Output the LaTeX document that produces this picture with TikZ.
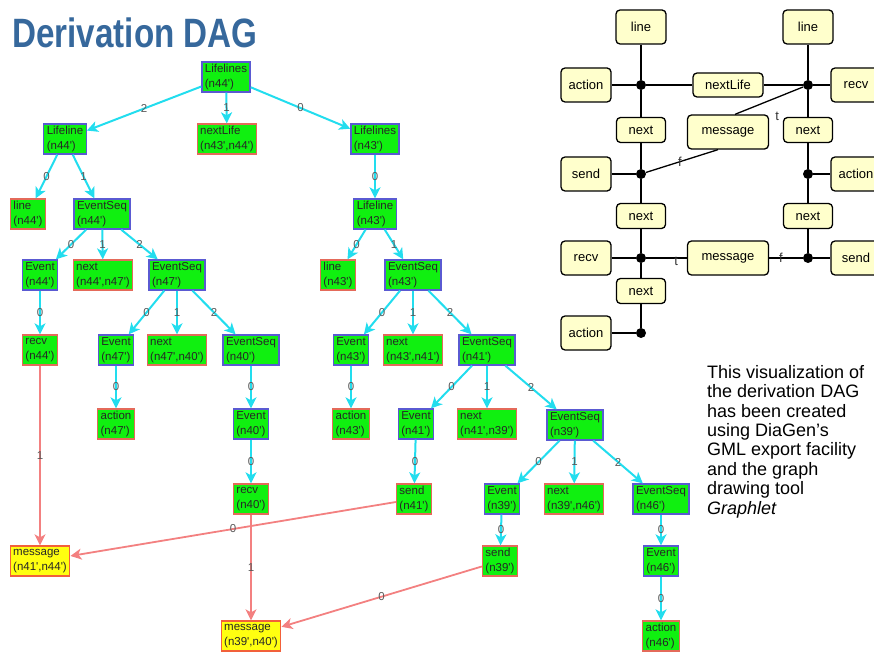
\documentclass[tikz,border=0pt]{standalone}
\usepackage{fontspec}
\newfontfamily\arialish{Liberation Sans}
\usetikzlibrary{arrows.meta}
\definecolor{titleblue}{HTML}{36689C}
\definecolor{daggreen}{HTML}{10F010}
\definecolor{ntblue}{HTML}{5A5AD2}
\definecolor{tred}{HTML}{E46A5A}
\definecolor{mred}{HTML}{F2603A}
\definecolor{msgyellow}{HTML}{FFFF10}
\definecolor{dagcyan}{HTML}{22DDEE}
\definecolor{redline}{HTML}{F38080}
\definecolor{paleyellow}{HTML}{FFFFCC}
\begin{document}
\begin{tikzpicture}[x=1pt,y=-1pt,
  dagbox/.style={rectangle, align=left, inner xsep=3pt, inner ysep=1.5pt,
    minimum height=30pt, line width=1.3pt, text=black!85,
    font=\arialish\fontsize{11.5}{15}\selectfont},
  nonterm/.style={dagbox, fill=daggreen, draw=ntblue},
  term/.style={dagbox, fill=daggreen, draw=tred},
  msgbox/.style={dagbox, fill=msgyellow, draw=mred},
  tree/.style={draw=dagcyan, line width=2pt, -{Stealth[length=11pt,width=11pt,inset=3pt]}},
  cross/.style={draw=redline, line width=1.8pt, -{Stealth[length=11pt,width=11pt,inset=3pt]}},
  elab/.style={midway, font=\arialish\fontsize{11.5}{11.5}\selectfont, text=black!65, inner sep=0pt},
  rbox/.style={rectangle, draw=black, fill=paleyellow, rounded corners=4pt,
    line width=1.3pt, inner sep=0pt, minimum width=50pt, minimum height=34pt,
    font=\arialish\fontsize{13}{15}\selectfont},
  rsmall/.style={rbox, minimum width=49pt, minimum height=25pt},
  rwide/.style={rbox, minimum width=81pt},
  joint/.style={circle, fill=black, minimum size=10pt, inner sep=0pt},
  conn/.style={draw=black, line width=1.3pt},
  tf/.style={font=\arialish\fontsize{13}{13}\selectfont, text=black!80, inner sep=0pt}
]
\useasboundingbox (0,0) rectangle (874,652);

% heading
\node[anchor=base west, inner sep=0pt, text=titleblue,
      font=\arialish\bfseries\fontsize{41}{41}\selectfont] (title) at (12,48)
  {\scalebox{0.81}[1]{Derivation DAG}};

% ---------- derivation DAG ----------
\node[nonterm] (LL44) at (226,77)  {Lifelines\\(n44')};
\node[nonterm] (LI44) at (65,139)  {Lifeline\\(n44')};
\node[term]    (NL)   at (227,139) {nextLife\\(n43',n44')};
\node[nonterm] (LL43) at (375,139) {Lifelines\\(n43')};

\node[term]    (ln44) at (28,214)  {line\\(n44')};
\node[nonterm] (ES44) at (102,214) {EventSeq\\(n44')};
\node[nonterm] (LI43) at (375,214) {Lifeline\\(n43')};

\node[nonterm] (EV44) at (40,275)  {Event\\(n44')};
\node[term]    (nx4447) at (103,275) {next\\(n44',n47')};
\node[nonterm] (ES47) at (177,275) {EventSeq\\(n47')};
\node[term]    (ln43) at (338,275) {line\\(n43')};
\node[nonterm] (ES43) at (413,275) {EventSeq\\(n43')};

\node[term]    (rc44) at (40,350)  {recv\\(n44')};
\node[nonterm] (EV47) at (116,350) {Event\\(n47')};
\node[term]    (nx4740) at (177,350) {next\\(n47',n40')};
\node[nonterm] (ES40) at (251,350) {EventSeq\\(n40')};
\node[nonterm] (EV43) at (351,350) {Event\\(n43')};
\node[term]    (nx4341) at (413,350) {next\\(n43',n41')};
\node[nonterm] (ES41) at (487,350) {EventSeq\\(n41')};

\node[term]    (ac47) at (116,424) {action\\(n47')};
\node[nonterm] (EV40) at (251,424) {Event\\(n40')};
\node[term]    (ac43) at (351,424) {action\\(n43')};
\node[nonterm] (EV41) at (416,424) {Event\\(n41')};
\node[term]    (nx4139) at (487,424) {next\\(n41',n39')};
\node[nonterm] (ES39) at (575,425) {EventSeq\\(n39')};

\node[term]    (rc40) at (251,499) {recv\\(n40')};
\node[term]    (sd41) at (414,499) {send\\(n41')};
\node[nonterm] (EV39) at (502,499) {Event\\(n39')};
\node[term]    (nx3946) at (574,499) {next\\(n39',n46')};
\node[nonterm] (ES46) at (661,499) {EventSeq\\(n46')};

\node[msgbox]  (ms4144) at (40,561) {message\\(n41',n44')};
\node[term]    (sd39) at (500,561) {send\\(n39')};
\node[nonterm] (EV46) at (661,561) {Event\\(n46')};

\node[msgbox]  (ms3940) at (251,636) {message\\(n39',n40')};
\node[term]    (ac46) at (661,636) {action\\(n46')};

% derivation edges
\draw[tree] (LL44) -- node[elab]{2} (LI44);
\draw[tree] (LL44) -- node[elab]{1} (NL);
\draw[tree] (LL44) -- node[elab]{0} (LL43);
\draw[tree] (LI44) -- node[elab]{0} (ln44);
\draw[tree] (LI44) -- node[elab]{1} (ES44);
\draw[tree] (ES44) -- node[elab]{0} (EV44);
\draw[tree] (ES44) -- node[elab]{1} (nx4447);
\draw[tree] (ES44) -- node[elab]{2} (ES47);
\draw[tree] (EV44) -- node[elab]{0} (rc44);
\draw[tree] (ES47) -- node[elab]{0} (EV47);
\draw[tree] (ES47) -- node[elab]{1} (nx4740);
\draw[tree] (ES47) -- node[elab]{2} (ES40);
\draw[tree] (EV47) -- node[elab]{0} (ac47);
\draw[tree] (ES40) -- node[elab]{0} (EV40);
\draw[tree] (EV40) -- node[elab]{0} (rc40);
\draw[tree] (LL43) -- node[elab]{0} (LI43);
\draw[tree] (LI43) -- node[elab]{0} (ln43);
\draw[tree] (LI43) -- node[elab]{1} (ES43);
\draw[tree] (ES43) -- node[elab]{0} (EV43);
\draw[tree] (ES43) -- node[elab]{1} (nx4341);
\draw[tree] (ES43) -- node[elab]{2} (ES41);
\draw[tree] (EV43) -- node[elab]{0} (ac43);
\draw[tree] (ES41) -- node[elab]{0} (EV41);
\draw[tree] (ES41) -- node[elab]{1} (nx4139);
\draw[tree] (ES41) -- node[elab]{2} (ES39);
\draw[tree] (EV41) -- node[elab]{0} (sd41);
\draw[tree] (ES39) -- node[elab]{0} (EV39);
\draw[tree] (ES39) -- node[elab]{1} (nx3946);
\draw[tree] (ES39) -- node[elab]{2} (ES46);
\draw[tree] (EV39) -- node[elab]{0} (sd39);
\draw[tree] (ES46) -- node[elab]{0} (EV46);
\draw[tree] (EV46) -- node[elab]{0} (ac46);

% shared message nodes
\draw[cross] (rc44) -- node[elab]{1} (ms4144);
\draw[cross] (sd41) -- node[elab]{0} (ms4144);
\draw[cross] (rc40) -- node[elab]{1} (ms3940);
\draw[cross] (sd39) -- node[elab]{0} (ms3940);

% ---------- hypergraph ----------
\node[rbox]   (lineA) at (641,27)  {line};
\node[rbox]   (lineB) at (808,27)  {line};
\node[rbox]   (actA)  at (586,85)  {action};
\node[joint]  (jA)    at (641,85)  {};
\node[rbox, minimum width=70pt, minimum height=24pt] (nlife) at (728,85) {nextLife};
\node[joint]  (jB)    at (808,85)  {};
\node[rbox]   (recvA) at (856,85)  {recv};
\node[rsmall] (nextA) at (641,130) {next};
\node[rwide]  (msgA)  at (728,132) {message};
\node[rsmall] (nextB) at (808,130) {next};
\node[rbox]   (sendA) at (586,174) {send};
\node[joint]  (jC)    at (641,174) {};
\node[joint]  (jD)    at (808,174) {};
\node[rbox]   (actB)  at (856,174) {action};
\node[rsmall] (nextC) at (641,216) {next};
\node[rsmall] (nextD) at (808,216) {next};
\node[rbox]   (recvB) at (586,258) {recv};
\node[joint]  (jE)    at (641,258) {};
\node[rwide]  (msgB)  at (728,258) {message};
\node[joint]  (jF)    at (808,258) {};
\node[rbox]   (sendB) at (856,258) {send};
\node[rsmall] (nextE) at (641,291) {next};
\node[rbox]   (actC)  at (586,333) {action};
\node[joint]  (jG)    at (641,333) {};

% left lifeline
\draw[conn] (lineA) -- (jA);
\draw[conn] (jA) -- (nextA);
\draw[conn] (nextA) -- (jC);
\draw[conn] (jC) -- (nextC);
\draw[conn] (nextC) -- (jE);
\draw[conn] (jE) -- (nextE);
\draw[conn] (nextE) -- (jG);
% right lifeline
\draw[conn] (lineB) -- (jB);
\draw[conn] (jB) -- (nextB);
\draw[conn] (nextB) -- (jD);
\draw[conn] (jD) -- (nextD);
\draw[conn] (nextD) -- (jF);
% attached events
\draw[conn] (actA) -- (jA);
\draw[conn] (jA) -- (nlife);
\draw[conn] (nlife) -- (jB);
\draw[conn] (jB) -- (recvA);
\draw[conn] (sendA) -- (jC);
\draw[conn] (jD) -- (actB);
\draw[conn] (recvB) -- (jE);
\draw[conn] (jE) -- node[tf, pos=0.74, yshift=-3pt]{t} (msgB);
\draw[conn] (msgB) -- node[tf, pos=0.35]{f} (jF);
\draw[conn] (jF) -- (sendB);
\draw[conn] (actC) -- (jG);
% message between the two lifelines
\draw[conn] (jC) -- node[tf, pos=0.47]{f} ([xshift=-10pt]msgA.south);
\draw[conn] ([xshift=7pt]msgA.north) -- (jB);
\node[tf] (tlab) at ([xshift=8pt, yshift=-2pt]msgA.north east) {t};

% caption
\node[anchor=north west, align=left, inner sep=0pt,
      font=\arialish\fontsize{18}{19.4}\selectfont] (caption) at (707,365)
  {This visualization of\\the derivation DAG\\has been created\\using DiaGen’s\\GML export facility\\and the graph\\drawing tool\\\textit{Graphlet}};
\end{tikzpicture}
\end{document}
